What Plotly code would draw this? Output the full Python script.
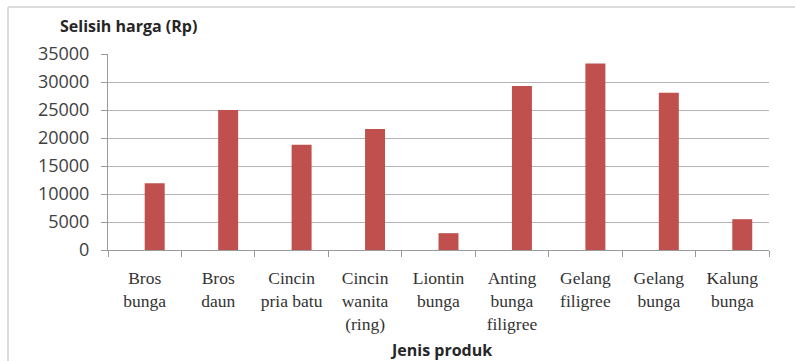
import plotly.graph_objects as go

categories = ["Bros<br>bunga", "Bros<br>daun", "Cincin<br>pria batu", "Cincin<br>wanita<br>(ring)",
              "Liontin<br>bunga", "Anting<br>bunga<br>filigree", "Gelang<br>filigree",
              "Gelang<br>bunga", "Kalung<br>bunga"]
selisih = [11900, 25000, 18800, 21600, 3000, 29300, 33300, 28100, 5500]
y_ticks = [0, 5000, 10000, 15000, 20000, 25000, 30000, 35000]

W, H = 795, 361
L, R, T, B = 108, 26, 54, 111
ph = H - T - B
pw = W - L - R

fig = go.Figure()
fig.add_trace(go.Bar(
    x=categories, y=selisih,
    marker=dict(color="#C0504D", line=dict(width=0)),
    width=0.272, offset=0,
))

fig.update_layout(
    width=W, height=H,
    margin=dict(l=L, r=R, t=T, b=B),
    paper_bgcolor="white", plot_bgcolor="white",
    showlegend=False,
    xaxis=dict(
        type="category",
        showgrid=False,
        showline=True, linecolor="#9a9a9a", linewidth=1,
        ticks="outside", tickson="boundaries", ticklen=6, tickcolor="#9a9a9a",
        tickfont=dict(family="Liberation Serif", size=17.5, color="#333333"),
        ticklabelstandoff=12,
    ),
    yaxis=dict(
        range=[0, 35000], tickvals=y_ticks, ticktext=[str(v) for v in y_ticks],
        showgrid=True, gridcolor="#b4b4b4", gridwidth=1,
        showline=True, linecolor="#9a9a9a", linewidth=1,
        ticks="outside", ticklen=6, tickcolor="#9a9a9a",
        tickfont=dict(family="Open Sans", size=18, color="#404040"),
        ticklabelstandoff=8,
        zeroline=False,
    ),
)

fig.add_annotation(
    text="<b>Selisih harga (Rp)</b>", xref="paper", yref="paper",
    x=(58 - L) / pw, y=1 + (T - 26) / ph, xanchor="left", yanchor="middle",
    showarrow=False, font=dict(family="Open Sans", size=16, color="#262626"),
)
fig.add_annotation(
    text="<b>Jenis produk</b>", xref="paper", yref="paper",
    x=(441 - L) / pw, y=-(350 - T - ph) / ph, xanchor="center", yanchor="middle",
    showarrow=False, font=dict(family="Open Sans", size=16, color="#262626"),
)

# outer chart border (cropped at right and bottom)
fig.add_shape(type="line", xref="paper", yref="paper",
              x0=(8 - L) / pw, x1=(W - L) / pw, y0=1 + (T - 7) / ph, y1=1 + (T - 7) / ph,
              line=dict(color="#d0d0d0", width=1.5))
fig.add_shape(type="line", xref="paper", yref="paper",
              x0=(8 - L) / pw, x1=(8 - L) / pw, y0=1 + (T - 7) / ph, y1=-(H - T - ph) / ph,
              line=dict(color="#d0d0d0", width=1.5))

fig.write_html("out.html")
